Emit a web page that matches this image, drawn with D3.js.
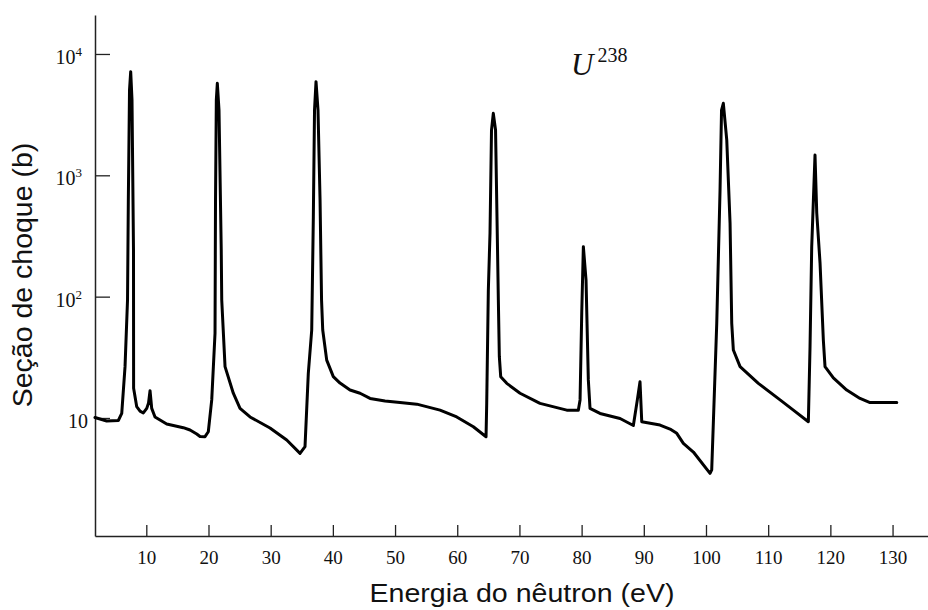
<!DOCTYPE html>
<html>
<head>
<meta charset="utf-8">
<script src="https://cdn.jsdelivr.net/npm/d3@7"></script>
<style>
body { margin: 0; background: #fff; }
</style>
</head>
<body>
<div id="grafico"></div>
<script>
// energia do nêutron (eV) e seção de choque (b)
const energia = [1.75, 3.63, 5.50, 6.05, 6.58, 6.98, 7.11, 7.30, 7.49, 7.70, 7.94, 7.96, 8.46, 8.99, 9.52, 10.07, 10.36, 10.60, 10.87, 11.40, 13.28,
  15.95, 17.03, 18.11, 18.64, 19.44, 19.97, 20.52, 21.05, 21.13, 21.26, 21.42, 21.69, 22.05, 22.13, 22.66, 23.99, 25.07, 26.68, 29.89, 32.58, 34.72, 35.52,
  36.05, 36.60, 36.86, 37.05, 37.29, 37.61, 37.94, 38.18, 38.37, 39.01, 40.07, 41.15, 42.76, 44.37, 45.98, 48.39, 50.80, 53.49, 57.23, 59.92, 62.59, 64.63,
  64.74, 65.00, 65.27, 65.51, 65.80, 66.16, 66.48, 66.61, 66.77, 66.99, 67.96, 70.10, 73.31, 77.61, 79.47, 79.75, 80.02, 80.28, 80.71, 81.08, 81.35, 82.96,
  86.18, 88.32, 88.96, 89.39, 89.67, 92.61, 94.22, 95.30, 96.36, 97.97, 100.65, 100.92, 101.18, 101.73, 102.26, 102.50, 102.79, 103.34, 103.87, 104.14, 104.40,
  105.48, 108.42, 111.91, 114.05, 116.46, 116.73, 117.00, 117.53, 117.81, 118.34, 118.87, 119.14, 120.48, 122.63, 124.77, 126.38, 130.68];
const secao = [10.1, 9.44, 9.53, 10.9, 26.5, 93.8, 626, 5050, 7150, 4180, 242, 17.6, 12.4, 11.4, 11.0, 12.0, 13.3, 16.8, 12.0, 10.2, 8.92,
  8.32, 7.96, 7.38, 7.04, 7.01, 7.70, 14.1, 49.9, 626, 4180, 5730, 3450, 242, 93.8, 26.5, 16.0, 12.0, 10.2, 8.27, 6.58, 5.11, 5.80,
  23.3, 53.1, 456, 3450, 5910, 3450, 626, 93.8, 53.1, 30.0, 21.9, 19.4, 17.0, 16.0, 14.5, 13.8, 13.4, 13.0, 11.6, 10.2, 8.47, 7.01,
  13.2, 113, 335, 2360, 3240, 2360, 242, 93.8, 32.0, 21.9, 19.3, 16.0, 13.2, 11.6, 11.6, 14.1, 73.3, 258, 137, 20.6, 12.0, 10.9,
  9.9, 8.67, 14.1, 19.9, 9.32, 8.75, 8.11, 7.47, 6.18, 5.24, 3.50, 3.73, 9.04, 60.3, 757, 3450, 3920, 1950, 402, 60.3, 36.3,
  26.5, 19.3, 14.1, 11.6, 9.32, 38.7, 258, 1470, 489, 189, 43.9, 26.5, 21.4, 17.0, 14.5, 13.4, 13.4];

const ticksX = [10, 20, 30, 40, 50, 60, 70, 80, 90, 100, 110, 120, 130];
const ticksY = [10, 100, 1000, 10000];
const expoentesY = ["", "2", "3", "4"];

const sirina = 928;
const visina = 610;

const x = d3.scaleLinear().domain([1.75, 135.7]).range([95, 928]);
const y = d3.scaleLog().domain([1.065, 20950]).range([536, 15]);

const svg = d3.select("#grafico")
    .append("svg")
    .attr("width", sirina)
    .attr("height", visina);

// eixos com marcas para dentro
const eixoX = svg.append("g")
    .attr("transform", "translate(0,536)")
    .call(d3.axisBottom(x).tickValues(ticksX).tickSize(-11).tickSizeOuter(0).tickPadding(15));
eixoX.select(".domain").attr("stroke", "#222").attr("stroke-width", 1.5);
eixoX.selectAll(".tick line").attr("stroke", "#222").attr("stroke-width", 1.3);
eixoX.selectAll(".tick text")
    .attr("fill", "#111")
    .style("font-family", "'Liberation Serif', 'Times New Roman', serif")
    .style("font-size", "19px");

const eixoY = svg.append("g")
    .attr("transform", "translate(95,0)")
    .call(d3.axisLeft(y).tickValues(ticksY).tickSize(-15).tickSizeOuter(0).tickFormat(""));
eixoY.select(".domain").attr("stroke", "#222").attr("stroke-width", 1.5);
eixoY.selectAll(".tick line").attr("stroke", "#222").attr("stroke-width", 1.3);

// rótulos 10, 10², 10³, 10⁴
const rotulos = svg.append("g")
    .style("font-family", "'Liberation Serif', 'Times New Roman', serif")
    .attr("fill", "#111");
ticksY.forEach((v, i) => {
    const t = rotulos.append("text")
        .attr("x", expoentesY[i] ? 82 : 88)
        .attr("y", y(v) + 10)
        .attr("text-anchor", "end")
        .style("font-size", "20px")
        .text("10");
    if (expoentesY[i]) {
        t.append("tspan")
            .attr("dy", -8)
            .style("font-size", "13px")
            .text(expoentesY[i]);
    }
});

// curva
const pontos = energia.map((e, i) => ({ e: e, s: secao[i] }));
const linha = d3.line()
    .x(d => x(d.e))
    .y(d => y(d.s));

svg.append("path")
    .datum(pontos)
    .attr("fill", "none")
    .attr("stroke", "#000")
    .attr("stroke-width", 3)
    .attr("stroke-linejoin", "round")
    .attr("stroke-linecap", "round")
    .attr("d", linha);

// U238
const iso = svg.append("text")
    .attr("x", 571)
    .attr("y", 75)
    .attr("fill", "#111")
    .style("font-family", "'Liberation Serif', 'Times New Roman', serif");
iso.append("tspan")
    .style("font-style", "italic")
    .style("font-size", "31px")
    .text("U");
iso.append("tspan")
    .attr("dx", 4)
    .attr("dy", -13)
    .style("font-size", "20px")
    .text("238");

// títulos
svg.append("text")
    .attr("x", 522)
    .attr("y", 602)
    .attr("text-anchor", "middle")
    .attr("fill", "#111")
    .style("font-family", "'Liberation Sans', Arial, sans-serif")
    .style("font-size", "26px")
    .attr("textLength", 305)
    .attr("lengthAdjust", "spacingAndGlyphs")
    .text("Energia do nêutron (eV)");

svg.append("text")
    .attr("transform", "translate(32,275) rotate(-90)")
    .attr("text-anchor", "middle")
    .attr("fill", "#111")
    .style("font-family", "'Liberation Sans', Arial, sans-serif")
    .style("font-size", "28.5px")
    .text("Seção de choque (b)");
</script>
</body>
</html>
